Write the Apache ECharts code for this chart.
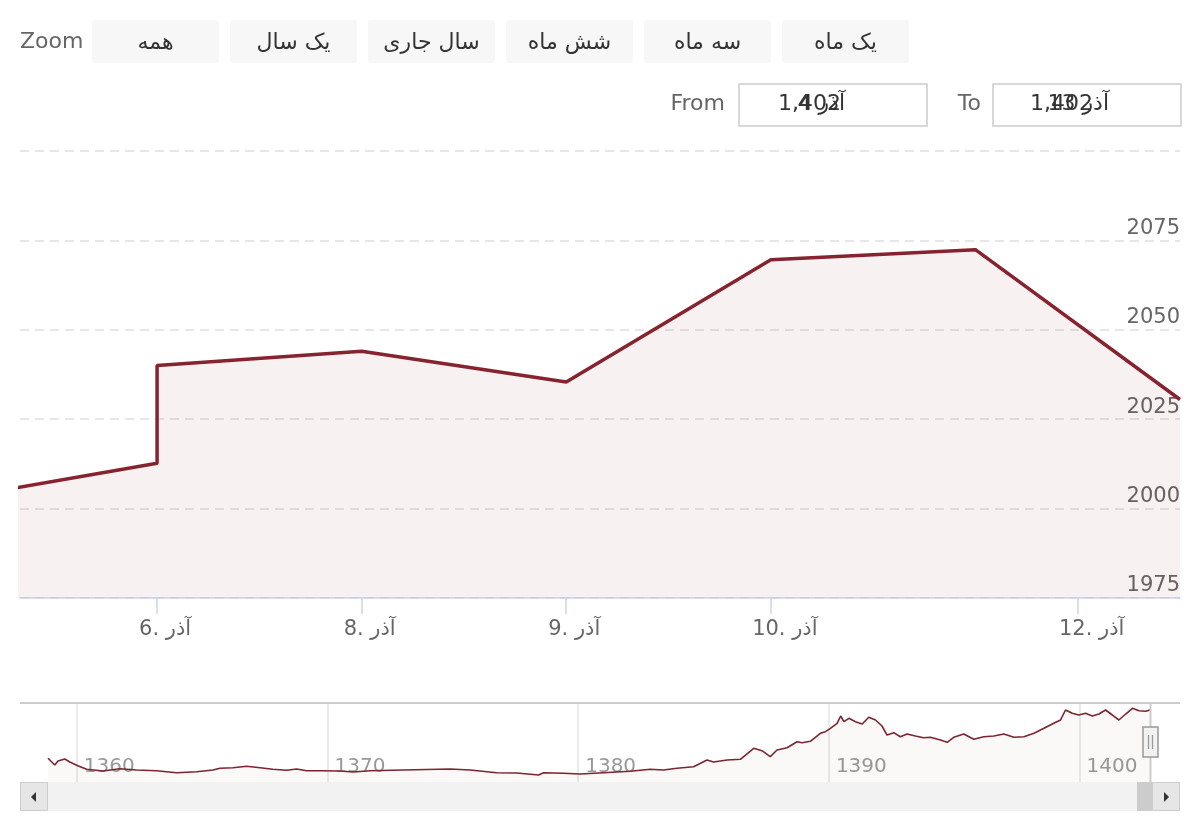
<!DOCTYPE html>
<html>
<head>
<meta charset="utf-8">
<script src="https://cdn.jsdelivr.net/npm/echarts@6/dist/echarts.min.js"></script>
<style>
html,body{margin:0;padding:0;background:#fff;}
#chart{width:1200px;height:840px;}
</style>
</head>
<body>
<div id="chart"></div>
<script>
// ---- data ----
// main series: ordinal positions (trading days, Highstock-style ordinal axis) and values
const pointDates = ['4 آذر','6 آذر','6 آذر','8 آذر','9 آذر','10 آذر','11 آذر','13 آذر'];
const pointPos   = [-1, 0, 0, 1, 2, 3, 4, 5];
const pointValues = [2002.7, 2012.7, 2040, 2044, 2035.4, 2069.6, 2072.4, 2030.5];
const viewStart = -0.67, viewEnd = 5;
const tickPos = [0, 1, 2, 3, 4.5];
const tickLabels = ['6. آذر', '8. آذر', '9. آذر', '10. آذر', '12. آذر'];
const yTicks = [1975, 2000, 2025, 2050, 2075, 2100];

// navigator (full history) : year and value
const navYears = [1358.85,1359.12,1359.25,1359.52,1359.72,1360.04,1360.39,1361.04,1361.72,1362.38,1363.18,1363.98,1364.78,1365.43,1365.71,1366.23,1366.77,1367.31,1367.82,1368.37,1368.77,1369.17,1369.70,1370.50,1371.02,1371.70,1373.01,1374.89,1375.69,1376.75,1377.55,1378.42,1378.62,1379.41,1380.08,1381.01,1382.08,1382.87,1383.40,1383.94,1384.60,1385.14,1385.40,1385.94,1386.47,1387.00,1387.33,1387.66,1387.93,1388.33,1388.73,1388.93,1389.26,1389.66,1389.86,1390.06,1390.33,1390.47,1390.60,1390.80,1391.06,1391.33,1391.59,1391.86,1392.12,1392.32,1392.59,1392.85,1393.12,1393.45,1393.78,1394.05,1394.45,1394.72,1394.98,1395.38,1395.78,1396.18,1396.58,1396.98,1397.38,1397.78,1398.18,1398.58,1398.97,1399.24,1399.44,1399.71,1399.97,1400.24,1400.51,1400.77,1401.04,1401.31,1401.57,1401.84,1402.11,1402.37,1402.64,1402.81];
const navValues = [870,709,805,853,781,692,605,565,620,589,572,524,548,589,629,644,678,644,605,581,613,572,572,565,541,572,589,613,589,524,516,468,524,509,492,524,557,605,589,629,668,829,781,829,846,1110,1053,908,1070,1125,1269,1245,1280,1471,1510,1591,1712,1887,1750,1832,1750,1695,1856,1791,1647,1430,1486,1389,1454,1406,1365,1375,1310,1255,1375,1454,1327,1389,1406,1454,1375,1389,1471,1591,1712,1791,2032,1952,1911,1952,1887,1935,2032,1911,1791,1935,2072,2015,2000,2030];
const navTicks = [1360, 1370, 1380, 1390, 1400];

const rangeButtons = ['همه', 'یک سال', 'سال جاری', 'شش ماه', 'سه ماه', 'یک ماه'];
const fromText = ['1,402', '4 آذر'];
const toText = ['1,402', '13 آذر'];

// ---- build ----
const FONT = 'DejaVu Sans';
const LINE = '#86232f';
const mainData = pointPos.map((p, i) => [p, pointValues[i]]);
const navN = Math.min(navYears.length, navValues.length);
const navData = [];
for (let i = 0; i < navN; i++) navData.push([navYears[i], navValues[i]]);

const graphics = [];
graphics.push({type:'text', x:20, y:42, style:{text:'Zoom', font:'22px ' + FONT, fill:'#666', verticalAlign:'middle'}});
rangeButtons.forEach((b, i) => {
  const x = 92 + i * 138;
  graphics.push({type:'rect', shape:{x:x, y:20, width:127, height:43, r:3}, style:{fill:'#f7f7f7'}});
  graphics.push({type:'text', x:x + 63.5, y:43, style:{text:b, font:'22px ' + FONT, fill:'#333', align:'center', verticalAlign:'middle'}});
});
graphics.push({type:'text', x:725, y:104, style:{text:'From', font:'22px ' + FONT, fill:'#666', align:'right', verticalAlign:'middle'}});
graphics.push({type:'rect', shape:{x:739, y:84, width:188, height:42}, style:{fill:'#fff', stroke:'#cccccc', lineWidth:1.5}});
graphics.push({type:'text', x:778, y:104, style:{text:fromText[0], font:'22px ' + FONT, fill:'#333', align:'left', verticalAlign:'middle'}});
graphics.push({type:'text', x:845, y:104, style:{text:fromText[1], font:'22px ' + FONT, fill:'#333', align:'right', verticalAlign:'middle'}});
graphics.push({type:'text', x:981, y:104, style:{text:'To', font:'22px ' + FONT, fill:'#666', align:'right', verticalAlign:'middle'}});
graphics.push({type:'rect', shape:{x:993, y:84, width:188, height:42}, style:{fill:'#fff', stroke:'#cccccc', lineWidth:1.5}});
graphics.push({type:'text', x:1030, y:104, style:{text:toText[0], font:'22px ' + FONT, fill:'#333', align:'left', verticalAlign:'middle'}});
graphics.push({type:'text', x:1109, y:104, style:{text:toText[1], font:'22px ' + FONT, fill:'#333', align:'right', verticalAlign:'middle'}});
// navigator frame
graphics.push({type:'line', shape:{x1:20, y1:703, x2:1180, y2:703}, style:{stroke:'#cccccc', lineWidth:2}, z:10});
graphics.push({type:'line', shape:{x1:1150.5, y1:703, x2:1150.5, y2:782}, style:{stroke:'#cccccc', lineWidth:2}, z:10});
// scrollbar
graphics.push({type:'rect', shape:{x:20, y:782, width:1160, height:29}, style:{fill:'#f2f2f2'}, z:10});
graphics.push({type:'rect', shape:{x:1137, y:782, width:15, height:29}, style:{fill:'#cccccc'}, z:11});
graphics.push({type:'rect', shape:{x:20.5, y:782.5, width:27, height:28}, style:{fill:'#e6e6e6', stroke:'#cccccc', lineWidth:1}, z:11});
graphics.push({type:'rect', shape:{x:1152.5, y:782.5, width:27, height:28}, style:{fill:'#e6e6e6', stroke:'#cccccc', lineWidth:1}, z:11});
graphics.push({type:'polygon', shape:{points:[[31,797],[36,792],[36,802]]}, style:{fill:'#333'}, z:12});
graphics.push({type:'polygon', shape:{points:[[1169,797],[1164,792],[1164,802]]}, style:{fill:'#333'}, z:12});
// handle
graphics.push({type:'rect', shape:{x:1143, y:727, width:15, height:30}, style:{fill:'#f2f2f2', stroke:'#999', lineWidth:1.5}, z:12});
graphics.push({type:'line', shape:{x1:1148.5, y1:735, x2:1148.5, y2:749}, style:{stroke:'#999', lineWidth:1.3}, z:13});
graphics.push({type:'line', shape:{x1:1152.5, y1:735, x2:1152.5, y2:749}, style:{stroke:'#999', lineWidth:1.3}, z:13});

const option = {
  animation: false,
  backgroundColor: '#fff',
  textStyle: {fontFamily: FONT},
  grid: [
    {left: 20, right: 20, top: 151, height: 447},
    {left: 48, right: 50, top: 703, height: 79}
  ],
  xAxis: [
    {
      type: 'value', gridIndex: 0, min: viewStart, max: viewEnd,
      axisLine: {show: true, lineStyle: {color: '#ccd6eb', width: 1.5}},
      axisTick: {show: true, customValues: tickPos, length: 16, lineStyle: {color: '#ccd6eb', width: 1.5}},
      splitLine: {show: false},
      axisLabel: {
        customValues: tickPos, margin: 21, color: '#666', fontSize: 21, fontFamily: FONT,
        formatter: function (v) {
          let idx = 0, best = 1e9;
          tickPos.forEach((p, i) => { const d = Math.abs(p - v); if (d < best) { best = d; idx = i; } });
          const lab = tickLabels[idx];
          return (lab.indexOf('.') > 1 ? '{w|' : '{s|') + lab + '}';
        },
        rich: {
          s: {padding: [0, 0, 0, 16], color: '#666', fontSize: 21, fontFamily: FONT},
          w: {padding: [0, 0, 0, 28], color: '#666', fontSize: 21, fontFamily: FONT}
        }
      }
    },
    {
      type: 'value', gridIndex: 1, min: navYears[0], max: navYears[navN - 1],
      axisLine: {show: false},
      axisTick: {show: false, customValues: navTicks},
      splitLine: {show: true, lineStyle: {color: '#e3e3e3', width: 1.5}},
      axisLabel: {customValues: navTicks, inside: true, align: 'left', margin: 5, padding: [0, 0, 0, 7], color: '#999', fontSize: 20, fontFamily: FONT,
        formatter: function (v) { return String(Math.round(v)); }}
    }
  ],
  yAxis: [
    {
      type: 'value', gridIndex: 0, position: 'right', min: yTicks[0], max: yTicks[yTicks.length - 1], interval: 25,
      axisLine: {show: false}, axisTick: {show: false},
      splitLine: {show: true, lineStyle: {color: '#e0e0e0', width: 1.5, type: [9, 6]}},
      axisLabel: {inside: true, margin: 0, verticalAlign: 'bottom', lineHeight: 22, padding: [0, 0, 1, 0], showMaxLabel: false, color: '#666', fontSize: 21, fontFamily: FONT,
        formatter: function (v) { return String(v); }}
    },
    {
      type: 'value', gridIndex: 1, min: 300, max: 2200, show: false
    }
  ],
  series: [
    {
      type: 'line', xAxisIndex: 0, yAxisIndex: 0, data: mainData, showSymbol: false, clip: true,
      lineStyle: {color: LINE, width: 3.5}, itemStyle: {color: LINE},
      areaStyle: {color: 'rgba(134,35,47,0.09)', origin: 'start'}
    },
    {
      type: 'line', xAxisIndex: 1, yAxisIndex: 1, data: navData, showSymbol: false, clip: true,
      lineStyle: {color: '#7c2430', width: 1.6}, itemStyle: {color: '#7c2430'},
      areaStyle: {color: 'rgba(134,35,47,0.045)', origin: 'start'}
    }
  ],
  graphic: graphics
};

const chart = echarts.init(document.getElementById('chart'), null, {renderer: 'canvas'});
chart.setOption(option);
</script>
</body>
</html>
